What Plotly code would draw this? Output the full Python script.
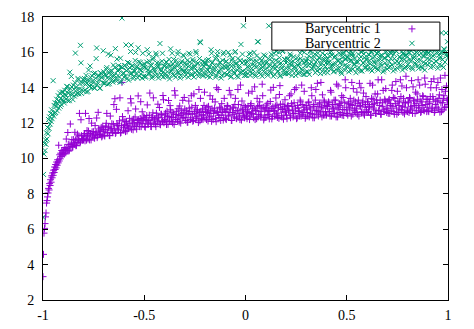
import plotly.graph_objects as go

# ---------------- data ----------------
X = [
    -1.0, -0.9975, -0.995, -0.9925, -0.99, -0.9875, -0.985, -0.9825, -0.98, -0.9775,
    -0.975, -0.9725, -0.97, -0.9675, -0.965, -0.9625, -0.96, -0.9575, -0.955, -0.9525,
    -0.95, -0.9475, -0.945, -0.9425, -0.94, -0.9375, -0.935, -0.9325, -0.93, -0.9275,
    -0.925, -0.9225, -0.92, -0.9175, -0.915, -0.9125, -0.91, -0.9075, -0.905, -0.9025,
    -0.9, -0.895, -0.89, -0.885, -0.88, -0.875, -0.87, -0.865, -0.86, -0.855,
    -0.85, -0.845, -0.84, -0.835, -0.83, -0.825, -0.82, -0.815, -0.81, -0.805,
    -0.8, -0.795, -0.79, -0.785, -0.78, -0.775, -0.77, -0.765, -0.76, -0.755,
    -0.75, -0.745, -0.74, -0.735, -0.73, -0.725, -0.72, -0.715, -0.71, -0.705,
    -0.7, -0.695, -0.69, -0.685, -0.68, -0.675, -0.67, -0.665, -0.66, -0.655,
    -0.65, -0.645, -0.64, -0.635, -0.63, -0.625, -0.62, -0.615, -0.61, -0.605,
    -0.6, -0.595, -0.59, -0.585, -0.58, -0.575, -0.57, -0.565, -0.56, -0.555,
    -0.55, -0.545, -0.54, -0.535, -0.53, -0.525, -0.52, -0.515, -0.51, -0.505,
    -0.5, -0.495, -0.49, -0.485, -0.48, -0.475, -0.47, -0.465, -0.46, -0.455,
    -0.45, -0.445, -0.44, -0.435, -0.43, -0.425, -0.42, -0.415, -0.41, -0.405,
    -0.4, -0.395, -0.39, -0.385, -0.38, -0.375, -0.37, -0.365, -0.36, -0.355,
    -0.35, -0.345, -0.34, -0.335, -0.33, -0.325, -0.32, -0.315, -0.31, -0.305,
    -0.3, -0.295, -0.29, -0.285, -0.28, -0.275, -0.27, -0.265, -0.26, -0.255,
    -0.25, -0.245, -0.24, -0.235, -0.23, -0.225, -0.22, -0.215, -0.21, -0.205,
    -0.2, -0.195, -0.19, -0.185, -0.18, -0.175, -0.17, -0.165, -0.16, -0.155,
    -0.15, -0.145, -0.14, -0.135, -0.13, -0.125, -0.12, -0.115, -0.11, -0.105,
    -0.1, -0.095, -0.09, -0.085, -0.08, -0.075, -0.07, -0.065, -0.06, -0.055,
    -0.05, -0.045, -0.04, -0.035, -0.03, -0.025, -0.02, -0.015, -0.01, -0.005,
    0.0, 0.005, 0.01, 0.015, 0.02, 0.025, 0.03, 0.035, 0.04, 0.045,
    0.05, 0.055, 0.06, 0.065, 0.07, 0.075, 0.08, 0.085, 0.09, 0.095,
    0.1, 0.105, 0.11, 0.115, 0.12, 0.125, 0.13, 0.135, 0.14, 0.145,
    0.15, 0.155, 0.16, 0.165, 0.17, 0.175, 0.18, 0.185, 0.19, 0.195,
    0.2, 0.205, 0.21, 0.215, 0.22, 0.225, 0.23, 0.235, 0.24, 0.245,
    0.25, 0.255, 0.26, 0.265, 0.27, 0.275, 0.28, 0.285, 0.29, 0.295,
    0.3, 0.305, 0.31, 0.315, 0.32, 0.325, 0.33, 0.335, 0.34, 0.345,
    0.35, 0.355, 0.36, 0.365, 0.37, 0.375, 0.38, 0.385, 0.39, 0.395,
    0.4, 0.405, 0.41, 0.415, 0.42, 0.425, 0.43, 0.435, 0.44, 0.445,
    0.45, 0.455, 0.46, 0.465, 0.47, 0.475, 0.48, 0.485, 0.49, 0.495,
    0.5, 0.505, 0.51, 0.515, 0.52, 0.525, 0.53, 0.535, 0.54, 0.545,
    0.55, 0.555, 0.56, 0.565, 0.57, 0.575, 0.58, 0.585, 0.59, 0.595,
    0.6, 0.605, 0.61, 0.615, 0.62, 0.625, 0.63, 0.635, 0.64, 0.645,
    0.65, 0.655, 0.66, 0.665, 0.67, 0.675, 0.68, 0.685, 0.69, 0.695,
    0.7, 0.705, 0.71, 0.715, 0.72, 0.725, 0.73, 0.735, 0.74, 0.745,
    0.75, 0.755, 0.76, 0.765, 0.77, 0.775, 0.78, 0.785, 0.79, 0.795,
    0.8, 0.805, 0.81, 0.815, 0.82, 0.825, 0.83, 0.835, 0.84, 0.845,
    0.85, 0.855, 0.86, 0.865, 0.87, 0.875, 0.88, 0.885, 0.89, 0.895,
    0.9, 0.905, 0.91, 0.915, 0.92, 0.925, 0.93, 0.935, 0.94, 0.945,
    0.95, 0.955, 0.96, 0.965, 0.97, 0.975, 0.98, 0.985, 0.99, 0.995,
    1.0,
]

BARY1 = [
    3.32, 4.58, 5.78, 6.05, 6.32, 6.70, 6.92, 7.48, 7.62, 7.83,
    8.05, 8.31, 8.22, 8.58, 8.47, 8.80, 8.66, 9.02, 8.91, 9.18,
    9.05, 9.34, 9.21, 9.52, 9.38, 9.66, 9.47, 9.80, 9.62, 9.93,
    9.75, 10.75, 9.86, 10.21, 9.98, 10.30, 10.12, 10.45, 10.20, 10.36,
    10.47, 10.25, 10.50, 11.10, 10.45, 10.80, 10.47, 11.95, 10.82, 10.66,
    11.07, 10.81, 11.05, 10.74, 11.38, 11.04, 12.55, 10.94, 11.29, 11.06,
    11.07, 11.41, 12.55, 11.04, 11.29, 11.55, 11.05, 11.41, 12.00, 11.27,
    11.52, 11.15, 11.39, 12.29, 11.28, 11.67, 11.36, 11.55, 11.22, 11.83,
    11.65, 11.27, 11.83, 12.55, 11.46, 11.78, 11.29, 11.69, 11.97, 11.46,
    13.05, 13.38, 11.46, 11.97, 11.66, 11.87, 13.43, 11.47, 14.30, 12.18,
    11.60, 12.11, 11.88, 11.56, 12.70, 11.99, 11.78, 13.14, 12.13, 11.62,
    11.95, 12.35, 11.81, 12.15, 13.54, 11.95, 12.26, 11.80, 12.64, 12.13,
    12.31, 11.77, 12.18, 13.03, 11.94, 12.45, 12.06, 11.80, 12.33, 13.43,
    12.19, 11.93, 12.56, 12.07, 12.33, 12.88, 11.91, 12.50, 12.09, 13.32,
    12.20, 12.56, 11.92, 12.39, 13.28, 12.09, 12.75, 12.33, 12.01, 12.52,
    13.83, 12.22, 12.67, 12.10, 12.44, 12.97, 12.00, 12.53, 13.29, 12.32,
    12.80, 12.15, 12.50, 12.05, 13.25, 12.65, 12.30, 12.90, 12.10, 13.65,
    12.55, 12.25, 12.75, 12.40, 13.90, 12.13, 12.67, 12.47, 12.20, 13.00,
    12.30, 12.65, 12.90, 12.12, 12.55, 13.55, 12.40, 12.80, 12.20, 12.70,
    13.20, 12.08, 12.60, 13.90, 12.32, 12.85, 12.45, 12.75, 12.17, 13.40,
    12.65, 12.20, 13.00, 12.45, 13.85, 12.80, 12.15, 12.60, 12.90, 12.35,
    13.40, 12.25, 12.70, 13.05, 12.40, 14.15, 12.17, 12.75, 12.57, 12.30,
    12.90, 12.40, 12.65, 13.70, 12.20, 13.00, 12.55, 12.80, 12.30, 14.05,
    12.72, 12.25, 12.95, 12.48, 13.20, 12.35, 12.85, 13.55, 12.18, 12.68,
    12.32, 12.87, 13.12, 12.47, 12.67, 13.87, 12.24, 12.92, 12.72, 12.40,
    13.42, 13.02, 12.57, 12.27, 14.12, 12.80, 12.34, 13.07, 12.64, 13.32,
    12.80, 12.25, 13.00, 12.70, 12.45, 13.65, 12.95, 12.35, 13.15, 12.55,
    14.00, 12.30, 12.85, 12.70, 13.30, 12.40, 13.05, 12.60, 13.80, 12.27,
    13.00, 12.60, 13.15, 12.35, 12.80, 14.00, 12.50, 12.95, 12.30, 13.30,
    12.72, 14.25, 12.40, 13.08, 12.58, 12.90, 13.60, 12.45, 13.20, 12.65,
    12.45, 12.95, 13.20, 12.65, 13.85, 12.40, 13.05, 12.80, 12.55, 13.30,
    14.20, 12.35, 12.90, 13.10, 12.50, 13.55, 12.77, 12.43, 13.15, 14.00,
    12.90, 12.45, 13.20, 12.75, 13.05, 14.30, 12.50, 13.30, 12.85, 12.60,
    13.75, 13.10, 12.40, 13.00, 14.00, 12.65, 13.25, 12.52, 12.90, 13.50,
    12.60, 13.20, 12.90, 14.25, 12.45, 13.05, 13.35, 12.75, 13.65, 12.55,
    13.15, 14.45, 12.70, 13.30, 12.50, 12.95, 13.85, 12.65, 13.25, 12.85,
    13.20, 12.55, 13.35, 13.00, 12.70, 14.15, 13.45, 12.50, 13.10, 12.85,
    13.80, 12.60, 13.25, 14.45, 12.75, 12.95, 13.40, 12.52, 13.15, 14.00,
    12.65, 13.15, 13.45, 12.85, 14.40, 12.55, 13.25, 13.00, 13.75, 12.70,
    13.35, 12.90, 14.15, 12.60, 13.20, 13.55, 12.75, 14.55, 13.05, 12.65,
    13.35, 12.65, 13.10, 14.00, 12.80, 13.50, 14.50, 12.70, 13.25, 12.90,
    14.30, 13.40, 12.62, 13.15, 13.90, 12.75, 13.55, 14.70, 12.90, 13.30,
    13.05,
]

BARY2 = [
    6.67, 9.10, 10.25, 10.85, 10.45, 11.05, 10.80, 11.45, 11.10, 11.75,
    11.40, 12.20, 11.70, 12.35, 11.95, 12.55, 12.10, 12.75, 12.25, 12.50,
    14.40, 12.40, 13.00, 12.55, 13.15, 12.60, 12.95, 13.35, 12.70, 13.10,
    13.55, 12.85, 13.25, 13.70, 12.95, 13.40, 13.05, 13.75, 13.30, 13.55,
    13.75, 13.14, 13.63, 13.37, 14.05, 13.69, 13.27, 13.95, 14.64, 13.62,
    14.15, 13.53, 15.96, 14.04, 13.67, 14.45, 13.93, 16.40, 13.68, 14.26,
    13.80, 14.52, 14.19, 13.76, 14.43, 15.00, 14.07, 14.59, 14.01, 14.38,
    14.80, 13.97, 14.54, 16.25, 14.28, 14.70, 13.97, 14.85, 14.56, 14.28,
    14.90, 14.26, 14.68, 15.14, 14.20, 14.82, 14.53, 15.84, 14.96, 14.32,
    14.73, 15.15, 14.51, 15.62, 14.69, 15.00, 14.31, 15.18, 17.94, 14.80,
    14.60, 15.26, 16.42, 14.52, 15.03, 15.39, 14.80, 16.41, 15.22, 14.52,
    14.98, 15.54, 14.75, 15.21, 16.26, 14.67, 15.43, 14.99, 14.54, 15.20,
    15.35, 14.60, 15.10, 16.15, 14.80, 15.50, 14.95, 15.25, 14.65, 15.70,
    15.00, 14.70, 15.85, 15.20, 14.55, 15.40, 15.05, 14.75, 15.95, 14.90,
    15.20, 14.65, 15.45, 14.90, 15.30, 14.50, 16.20, 15.05, 14.75, 15.60,
    15.15, 14.60, 15.35, 15.90, 14.85, 15.10, 14.70, 15.50, 14.95, 15.80,
    14.65, 15.30, 15.10, 14.85, 15.95, 15.45, 14.75, 15.15, 15.60, 14.60,
    15.25, 16.05, 14.95, 15.40, 14.80, 16.60, 15.05, 14.70, 15.50, 15.20,
    15.35, 14.75, 15.55, 15.00, 15.20, 14.60, 16.15, 15.40, 14.85, 15.10,
    15.65, 14.70, 15.85, 15.25, 14.95, 15.45, 14.55, 15.15, 15.90, 14.80,
    15.15, 15.50, 14.75, 16.00, 14.90, 15.30, 14.65, 15.65, 15.10, 14.80,
    16.05, 15.40, 15.00, 14.60, 15.25, 15.55, 14.85, 15.90, 17.50, 14.70,
    15.40, 14.70, 15.20, 15.65, 14.90, 15.95, 15.10, 14.80, 15.50, 15.25,
    14.65, 15.80, 16.60, 15.00, 15.35, 14.75, 15.55, 15.15, 15.85, 14.85,
    15.05, 15.45, 14.70, 17.50, 15.30, 14.85, 15.70, 15.15, 15.95, 14.75,
    15.55, 15.20, 14.95, 16.00, 14.65, 15.40, 15.10, 16.10, 14.80, 15.60,
    15.40, 14.85, 15.65, 15.10, 15.90, 15.30, 14.70, 15.50, 15.15, 16.55,
    14.95, 15.70, 14.80, 15.35, 15.95, 15.05, 15.55, 14.75, 16.00, 15.25,
    14.90, 15.65, 15.25, 14.75, 16.10, 15.45, 15.05, 15.80, 15.30, 14.85,
    16.20, 15.55, 15.15, 15.70, 14.80, 15.40, 15.95, 15.00, 15.60, 15.20,
    15.60, 14.85, 15.40, 15.80, 15.05, 16.05, 15.25, 14.90, 15.70, 15.35,
    16.45, 14.95, 15.55, 15.15, 15.90, 14.80, 15.45, 16.00, 15.00, 15.65,
    15.20, 15.70, 14.90, 15.50, 16.10, 15.85, 15.05, 15.35, 15.65, 14.85,
    16.20, 15.45, 15.15, 16.30, 15.75, 14.95, 15.40, 15.90, 15.10, 15.60,
    15.60, 15.05, 15.85, 15.35, 16.00, 14.95, 15.70, 15.45, 15.15, 16.15,
    15.95, 15.00, 15.55, 15.80, 15.25, 16.30, 14.90, 15.65, 15.40, 16.05,
    15.05, 15.80, 15.50, 15.20, 15.95, 16.10, 14.95, 15.65, 15.40, 16.05,
    15.10, 16.50, 15.75, 15.30, 15.60, 15.00, 15.90, 15.85, 15.20, 15.50,
    15.75, 15.15, 16.00, 15.50, 16.20, 15.05, 15.65, 15.90, 15.30, 16.00,
    15.55, 15.10, 16.05, 16.60, 15.20, 15.80, 15.45, 15.00, 15.95, 16.10,
    15.30, 15.95, 15.60, 15.15, 16.15, 15.80, 15.40, 16.10, 15.50, 16.30,
    15.10, 15.85, 15.65, 16.00, 15.25, 16.00, 16.20, 15.45, 17.10, 15.80,
    15.70,
]

# second set of samples, lying between the ones above
X_MID = [
    -0.8975, -0.8925, -0.8875, -0.8825, -0.8775, -0.8725, -0.8675, -0.8625, -0.8575, -0.8525,
    -0.8475, -0.8425, -0.8375, -0.8325, -0.8275, -0.8225, -0.8175, -0.8125, -0.8075, -0.8025,
    -0.7975, -0.7925, -0.7875, -0.7825, -0.7775, -0.7725, -0.7675, -0.7625, -0.7575, -0.7525,
    -0.7475, -0.7425, -0.7375, -0.7325, -0.7275, -0.7225, -0.7175, -0.7125, -0.7075, -0.7025,
    -0.6975, -0.6925, -0.6875, -0.6825, -0.6775, -0.6725, -0.6675, -0.6625, -0.6575, -0.6525,
    -0.6475, -0.6425, -0.6375, -0.6325, -0.6275, -0.6225, -0.6175, -0.6125, -0.6075, -0.6025,
    -0.5975, -0.5925, -0.5875, -0.5825, -0.5775, -0.5725, -0.5675, -0.5625, -0.5575, -0.5525,
    -0.5475, -0.5425, -0.5375, -0.5325, -0.5275, -0.5225, -0.5175, -0.5125, -0.5075, -0.5025,
    -0.4975, -0.4925, -0.4875, -0.4825, -0.4775, -0.4725, -0.4675, -0.4625, -0.4575, -0.4525,
    -0.4475, -0.4425, -0.4375, -0.4325, -0.4275, -0.4225, -0.4175, -0.4125, -0.4075, -0.4025,
    -0.3975, -0.3925, -0.3875, -0.3825, -0.3775, -0.3725, -0.3675, -0.3625, -0.3575, -0.3525,
    -0.3475, -0.3425, -0.3375, -0.3325, -0.3275, -0.3225, -0.3175, -0.3125, -0.3075, -0.3025,
    -0.2975, -0.2925, -0.2875, -0.2825, -0.2775, -0.2725, -0.2675, -0.2625, -0.2575, -0.2525,
    -0.2475, -0.2425, -0.2375, -0.2325, -0.2275, -0.2225, -0.2175, -0.2125, -0.2075, -0.2025,
    -0.1975, -0.1925, -0.1875, -0.1825, -0.1775, -0.1725, -0.1675, -0.1625, -0.1575, -0.1525,
    -0.1475, -0.1425, -0.1375, -0.1325, -0.1275, -0.1225, -0.1175, -0.1125, -0.1075, -0.1025,
    -0.0975, -0.0925, -0.0875, -0.0825, -0.0775, -0.0725, -0.0675, -0.0625, -0.0575, -0.0525,
    -0.0475, -0.0425, -0.0375, -0.0325, -0.0275, -0.0225, -0.0175, -0.0125, -0.0075, -0.0025,
    0.0025, 0.0075, 0.0125, 0.0175, 0.0225, 0.0275, 0.0325, 0.0375, 0.0425, 0.0475,
    0.0525, 0.0575, 0.0625, 0.0675, 0.0725, 0.0775, 0.0825, 0.0875, 0.0925, 0.0975,
    0.1025, 0.1075, 0.1125, 0.1175, 0.1225, 0.1275, 0.1325, 0.1375, 0.1425, 0.1475,
    0.1525, 0.1575, 0.1625, 0.1675, 0.1725, 0.1775, 0.1825, 0.1875, 0.1925, 0.1975,
    0.2025, 0.2075, 0.2125, 0.2175, 0.2225, 0.2275, 0.2325, 0.2375, 0.2425, 0.2475,
    0.2525, 0.2575, 0.2625, 0.2675, 0.2725, 0.2775, 0.2825, 0.2875, 0.2925, 0.2975,
    0.3025, 0.3075, 0.3125, 0.3175, 0.3225, 0.3275, 0.3325, 0.3375, 0.3425, 0.3475,
    0.3525, 0.3575, 0.3625, 0.3675, 0.3725, 0.3775, 0.3825, 0.3875, 0.3925, 0.3975,
    0.4025, 0.4075, 0.4125, 0.4175, 0.4225, 0.4275, 0.4325, 0.4375, 0.4425, 0.4475,
    0.4525, 0.4575, 0.4625, 0.4675, 0.4725, 0.4775, 0.4825, 0.4875, 0.4925, 0.4975,
    0.5025, 0.5075, 0.5125, 0.5175, 0.5225, 0.5275, 0.5325, 0.5375, 0.5425, 0.5475,
    0.5525, 0.5575, 0.5625, 0.5675, 0.5725, 0.5775, 0.5825, 0.5875, 0.5925, 0.5975,
    0.6025, 0.6075, 0.6125, 0.6175, 0.6225, 0.6275, 0.6325, 0.6375, 0.6425, 0.6475,
    0.6525, 0.6575, 0.6625, 0.6675, 0.6725, 0.6775, 0.6825, 0.6875, 0.6925, 0.6975,
    0.7025, 0.7075, 0.7125, 0.7175, 0.7225, 0.7275, 0.7325, 0.7375, 0.7425, 0.7475,
    0.7525, 0.7575, 0.7625, 0.7675, 0.7725, 0.7775, 0.7825, 0.7875, 0.7925, 0.7975,
    0.8025, 0.8075, 0.8125, 0.8175, 0.8225, 0.8275, 0.8325, 0.8375, 0.8425, 0.8475,
    0.8525, 0.8575, 0.8625, 0.8675, 0.8725, 0.8775, 0.8825, 0.8875, 0.8925, 0.8975,
    0.9025, 0.9075, 0.9125, 0.9175, 0.9225, 0.9275, 0.9325, 0.9375, 0.9425, 0.9475,
    0.9525, 0.9575, 0.9625, 0.9675, 0.9725, 0.9775, 0.9825, 0.9875, 0.9925, 0.9975,
]

BARY1_MID = [
    10.27, 10.62, 10.32, 10.57, 11.47, 10.42, 10.77, 10.67, 11.06, 10.65,
    10.89, 11.48, 10.72, 11.11, 10.90, 11.28, 10.88, 12.19, 11.12, 11.03,
    11.33, 11.00, 11.26, 11.58, 11.10, 12.26, 11.38, 11.05, 11.51, 11.33,
    11.17, 11.86, 11.46, 11.18, 12.61, 11.55, 11.35, 11.76, 11.28, 11.54,
    11.31, 11.62, 11.99, 11.45, 11.77, 11.30, 12.40, 11.61, 11.48, 11.94,
    11.71, 11.42, 12.78, 11.85, 11.61, 12.13, 11.44, 11.85, 12.37, 11.74,
    11.90, 11.52, 12.08, 11.84, 11.71, 12.27, 13.38, 11.65, 12.01, 12.22,
    11.84, 12.80, 11.66, 12.03, 12.19, 11.80, 13.21, 12.18, 11.99, 12.40,
    11.81, 12.22, 12.43, 11.99, 12.15, 13.70, 11.81, 12.32, 12.58, 11.99,
    12.25, 11.80, 12.41, 13.07, 12.13, 11.94, 12.50, 12.30, 13.56, 12.02,
    12.45, 12.16, 12.67, 11.93, 12.38, 12.99, 12.10, 12.61, 12.32, 11.92,
    13.58, 12.49, 12.20, 12.81, 12.06, 12.42, 12.73, 12.29, 12.59, 13.45,
    12.30, 12.70, 12.05, 12.55, 12.85, 12.20, 13.55, 12.50, 12.15, 12.65,
    13.00, 12.35, 12.75, 12.03, 12.60, 13.40, 12.25, 12.80, 12.45, 13.75,
    12.75, 12.20, 12.60, 12.95, 12.35, 12.70, 12.10, 13.35, 12.55, 12.85,
    12.25, 14.00, 12.65, 12.45, 12.90, 12.15, 13.10, 12.60, 12.30, 12.80,
    12.25, 12.75, 12.95, 12.40, 12.60, 13.60, 12.15, 12.85, 12.50, 13.05,
    12.70, 12.30, 13.90, 12.55, 12.20, 12.80, 13.25, 12.45, 13.00, 12.35,
    12.75, 12.25, 12.95, 12.60, 12.40, 13.10, 13.80, 12.50, 12.85, 12.20,
    12.70, 13.40, 12.35, 13.00, 12.65, 12.45, 14.20, 12.90, 12.30, 12.80,
    13.02, 12.47, 12.72, 12.24, 13.22, 12.82, 12.37, 14.02, 12.67, 12.97,
    12.52, 12.32, 12.87, 13.62, 13.07, 12.42, 12.77, 12.22, 12.92, 12.62,
    12.45, 12.95, 12.70, 13.55, 12.30, 13.10, 12.75, 12.55, 13.90, 12.85,
    12.25, 13.00, 12.65, 12.40, 13.20, 14.15, 12.50, 12.90, 12.75, 12.35,
    12.80, 12.40, 13.20, 12.90, 12.55, 13.55, 12.30, 13.05, 12.70, 13.90,
    12.50, 12.95, 12.65, 13.15, 14.30, 12.35, 12.85, 13.30, 12.45, 13.00,
    12.95, 12.65, 13.15, 12.40, 13.75, 12.85, 12.55, 13.30, 13.05, 12.35,
    12.80, 14.10, 12.60, 13.00, 13.20, 12.45, 13.45, 12.75, 14.45, 12.55,
    12.55, 13.10, 12.85, 13.40, 12.40, 13.00, 13.95, 12.70, 13.20, 12.80,
    12.50, 13.30, 14.25, 12.95, 12.60, 13.15, 13.70, 12.45, 13.05, 12.75,
    13.20, 12.65, 12.95, 12.45, 13.40, 14.15, 12.85, 13.10, 12.55, 13.30,
    13.65, 12.70, 13.00, 12.50, 14.45, 13.15, 12.75, 13.35, 13.95, 12.60,
    12.80, 13.30, 12.55, 13.10, 13.85, 12.95, 12.65, 13.40, 14.35, 12.50,
    13.20, 13.00, 12.75, 13.50, 14.10, 12.60, 13.15, 12.90, 14.65, 12.70,
    13.20, 12.60, 13.40, 12.95, 12.75, 14.05, 13.30, 12.55, 13.10, 13.65,
    14.45, 12.85, 13.25, 12.65, 13.00, 13.50, 12.70, 14.20, 13.35, 12.90,
    12.70, 13.20, 13.50, 14.35, 12.85, 13.35, 12.60, 13.05, 14.00, 13.25,
    12.80, 13.60, 14.55, 12.65, 13.15, 13.40, 12.90, 13.80, 14.10, 13.30,
]

BARY2_MID = [
    13.27, 13.86, 13.55, 14.08, 13.27, 13.85, 14.88, 13.62, 14.05, 13.33,
    13.91, 14.29, 13.62, 13.90, 14.53, 13.66, 14.24, 15.41, 13.89, 14.47,
    14.41, 13.88, 14.70, 14.27, 13.79, 14.41, 15.23, 14.15, 14.67, 14.29,
    14.01, 14.83, 15.65, 14.17, 14.64, 14.46, 13.98, 14.80, 14.62, 16.09,
    14.26, 14.77, 15.04, 14.55, 15.91, 14.23, 14.94, 14.75, 14.47, 15.28,
    14.69, 16.21, 14.37, 14.98, 15.25, 14.61, 15.67, 14.34, 15.15, 14.85,
    15.25, 14.66, 14.97, 15.43, 14.43, 15.14, 16.05, 14.81, 15.27, 14.63,
    14.93, 16.00, 15.15, 14.56, 15.47, 15.02, 14.78, 15.29, 15.95, 14.65,
    15.15, 14.65, 15.45, 15.00, 15.90, 14.80, 15.30, 14.55, 15.60, 15.10,
    14.90, 15.95, 15.40, 14.70, 15.20, 16.50, 14.95, 15.50, 14.60, 15.25,
    14.80, 15.45, 15.15, 14.65, 15.60, 15.25, 14.95, 15.95, 15.35, 14.70,
    15.10, 15.55, 14.85, 16.05, 15.30, 14.55, 15.40, 15.05, 15.85, 14.90,
    15.40, 14.90, 15.55, 14.60, 15.25, 15.90, 15.05, 14.75, 15.50, 15.15,
    14.85, 15.95, 15.35, 14.65, 15.65, 16.55, 14.95, 15.30, 14.70, 15.45,
    14.95, 15.35, 14.65, 15.60, 15.15, 14.80, 15.95, 15.45, 15.00, 15.25,
    14.60, 15.70, 16.05, 14.85, 15.40, 15.05, 14.70, 15.55, 16.00, 15.20,
    15.45, 14.75, 15.20, 15.05, 15.85, 14.60, 15.55, 15.30, 14.90, 16.00,
    15.35, 14.65, 15.65, 15.10, 14.85, 16.45, 15.40, 14.95, 15.50, 14.70,
    14.90, 15.45, 15.15, 15.90, 14.70, 15.60, 15.30, 15.00, 16.00, 14.75,
    15.50, 15.20, 16.60, 14.85, 15.65, 15.10, 14.65, 15.40, 15.25, 15.80,
    15.40, 14.80, 15.65, 15.20, 14.95, 15.90, 15.50, 14.65, 15.30, 15.10,
    16.05, 14.90, 15.45, 15.70, 14.70, 15.25, 16.05, 15.00, 15.60, 14.80,
    15.10, 15.60, 14.80, 15.35, 15.80, 15.45, 14.95, 15.75, 15.20, 14.70,
    16.50, 15.55, 15.25, 14.85, 15.65, 16.10, 15.00, 15.40, 14.75, 15.50,
    15.50, 14.90, 15.80, 15.35, 16.05, 15.10, 15.65, 15.20, 15.90, 15.45,
    14.95, 15.95, 15.70, 15.05, 15.30, 16.20, 15.60, 14.85, 15.85, 15.40,
    15.05, 15.65, 15.45, 16.00, 15.20, 15.85, 15.35, 14.95, 15.80, 16.25,
    15.55, 15.10, 15.95, 15.40, 14.90, 15.70, 15.90, 15.25, 15.60, 16.10,
    15.75, 15.20, 15.95, 15.00, 15.55, 15.95, 15.80, 15.30, 16.40, 15.45,
    15.05, 15.90, 15.65, 14.95, 16.00, 16.10, 15.40, 15.70, 15.15, 16.20,
    15.30, 15.90, 15.55, 15.05, 16.05, 16.15, 15.20, 15.75, 15.45, 15.95,
    15.10, 16.00, 15.65, 15.35, 15.85, 16.30, 15.00, 15.70, 16.00, 15.25,
    15.80, 15.15, 16.00, 15.65, 15.30, 16.10, 15.90, 15.05, 16.10, 15.50,
    16.60, 15.40, 15.75, 15.20, 16.05, 15.95, 15.60, 15.10, 15.85, 16.20,
    15.30, 15.95, 15.60, 16.10, 15.15, 16.20, 15.75, 15.40, 16.00, 16.35,
    15.25, 15.85, 15.55, 16.15, 15.10, 16.05, 15.80, 15.35, 16.05, 15.65,
    15.95, 15.40, 16.10, 15.70, 16.30, 15.20, 15.85, 16.20, 15.50, 16.05,
    16.00, 15.30, 15.75, 17.10, 15.60, 15.15, 16.15, 16.00, 15.90, 16.60,
]

assert len(X) == len(BARY1) == len(BARY2), (len(X), len(BARY1), len(BARY2))
assert len(X_MID) == len(BARY1_MID) == len(BARY2_MID), (len(X_MID), len(BARY1_MID), len(BARY2_MID))

SERIES_NAMES = ["Barycentric 1", "Barycentric 2"]
X_TICKS = [-1, -0.5, 0, 0.5, 1]
X_TICK_TEXT = ["-1", "-0.5", "0", "0.5", "1"]
Y_TICKS = [2, 4, 6, 8, 10, 12, 14, 16, 18]

PURPLE = "#9400D3"
GREEN = "#009E73"
FONT = "Liberation Serif"

MARK1 = dict(symbol="cross-thin", size=5, line=dict(color=PURPLE, width=1), color=PURPLE)
MARK2 = dict(symbol="x-thin", size=5, line=dict(color=GREEN, width=1), color=GREEN)

fig = go.Figure()
fig.add_trace(go.Scatter(x=X + X_MID, y=BARY1 + BARY1_MID, mode="markers",
                         name=SERIES_NAMES[0], showlegend=False, marker=MARK1))
fig.add_trace(go.Scatter(x=X + X_MID, y=BARY2 + BARY2_MID, mode="markers",
                         name=SERIES_NAMES[1], showlegend=False, marker=MARK2))

# ---- gnuplot-style key: opaque box, right-justified text, sample on the right ----
KEY_X0, KEY_X1, KEY_Y0, KEY_Y1 = 0.565, 0.98, 0.883, 0.982
KEY_TEXT_X = 0.84
KEY_SAMPLE_X = 0.911
KEY_ROWS_Y = [0.958, 0.907]

fig.add_trace(go.Scatter(
    x=[KEY_X0, KEY_X1, KEY_X1, KEY_X0, KEY_X0], y=[KEY_Y0, KEY_Y0, KEY_Y1, KEY_Y1, KEY_Y0],
    xaxis="x2", yaxis="y2", mode="lines", fill="toself", fillcolor="white",
    line=dict(color="black", width=1), showlegend=False, hoverinfo="skip",
))
fig.add_trace(go.Scatter(x=[KEY_SAMPLE_X], y=[KEY_ROWS_Y[0]], xaxis="x2", yaxis="y2",
                         mode="markers", showlegend=False, hoverinfo="skip", marker=MARK1))
fig.add_trace(go.Scatter(x=[KEY_SAMPLE_X], y=[KEY_ROWS_Y[1]], xaxis="x2", yaxis="y2",
                         mode="markers", showlegend=False, hoverinfo="skip", marker=MARK2))
for name, yy in zip(SERIES_NAMES, KEY_ROWS_Y):
    fig.add_annotation(xref="x domain", yref="y domain", x=KEY_TEXT_X, y=yy,
                       text=name, showarrow=False, xanchor="right", yanchor="middle",
                       font=dict(family=FONT, size=14, color="black"))

axis_common = dict(
    showgrid=False, zeroline=False, showline=True, linecolor="black", linewidth=1,
    mirror="ticks", ticks="inside", ticklen=5, tickwidth=1, tickcolor="black",
    automargin=False,
    tickfont=dict(family=FONT, size=14, color="black"),
)
fig.update_layout(
    width=474, height=329,
    margin=dict(l=43, r=26, t=17, b=29, autoexpand=False),
    paper_bgcolor="white", plot_bgcolor="white",
    font=dict(family=FONT, size=14, color="black"),
    showlegend=False,
    xaxis=dict(range=[-1, 1], tickvals=X_TICKS, ticktext=X_TICK_TEXT,
               ticklabelstandoff=2, **axis_common),
    yaxis=dict(range=[2, 18], tickvals=Y_TICKS, ticklabelstandoff=5, **axis_common),
    xaxis2=dict(overlaying="x", range=[0, 1], visible=False, fixedrange=True),
    yaxis2=dict(overlaying="y", range=[0, 1], visible=False, fixedrange=True),
)

fig.write_html("out.html")
